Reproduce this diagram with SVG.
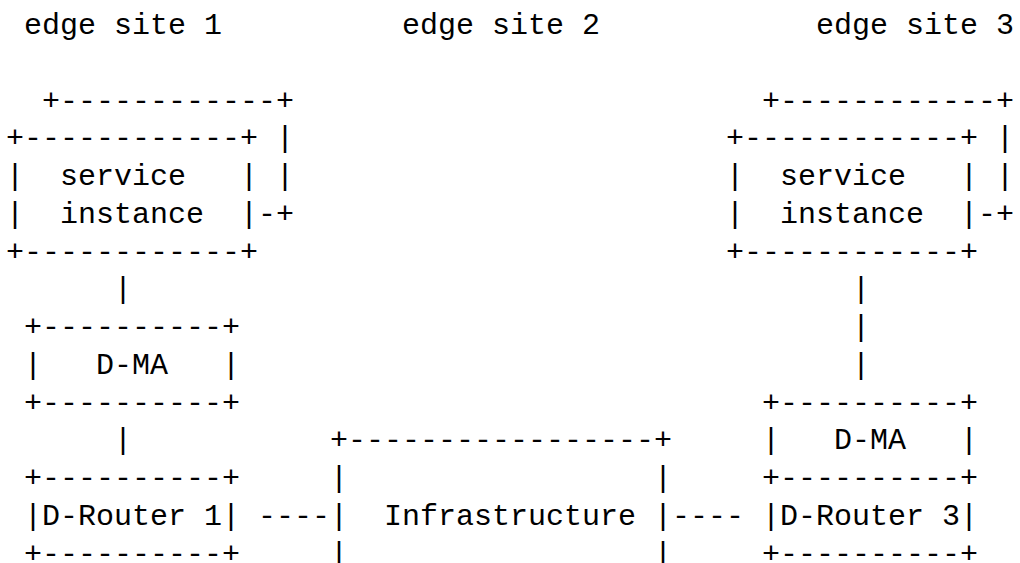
<svg xmlns="http://www.w3.org/2000/svg" width="1020" height="563" viewBox="0 0 1020 563" xml:space="preserve">
<style>
text { font-family: "Liberation Mono", "DejaVu Sans Mono", monospace; font-size: 30px; fill: #000; white-space: pre; }
</style>
<rect width="1020" height="563" fill="#fff"/>
<g id="site-labels">
<text x="24" y="34">edge site 1</text>
<text x="402" y="34">edge site 2</text>
<text x="816" y="34">edge site 3</text>
</g>
<g id="service-instance-1">
<text x="42" y="109.5">+------------+</text>
<text x="6" y="147.25">+------------+ |</text>
<text x="6" y="185">|  service   | |</text>
<text x="6" y="222.75">|  instance  |-+</text>
<text x="6" y="260.5">+------------+</text>
</g>
<g id="service-instance-3">
<text x="762" y="109.5">+------------+</text>
<text x="726" y="147.25">+------------+ |</text>
<text x="726" y="185">|  service   | |</text>
<text x="726" y="222.75">|  instance  |-+</text>
<text x="726" y="260.5">+------------+</text>
</g>
<g id="d-ma-1">
<text x="24" y="336">+----------+</text>
<text x="24" y="373.75">|   D-MA   |</text>
<text x="24" y="411.5">+----------+</text>
</g>
<g id="d-router-1">
<text x="24" y="487">+----------+</text>
<text x="24" y="524.75">|D-Router 1|</text>
<text x="24" y="562.5">+----------+</text>
</g>
<g id="infrastructure">
<text x="330" y="449.25">+-----------------+</text>
<text x="330" y="487">|                 |</text>
<text x="330" y="524.75">|  Infrastructure |</text>
<text x="330" y="562.5">|                 |</text>
</g>
<g id="d-ma-3">
<text x="762" y="411.5">+----------+</text>
<text x="762" y="449.25">|   D-MA   |</text>
<text x="762" y="487">+----------+</text>
</g>
<g id="d-router-3">
<text x="762" y="524.75">|D-Router 3|</text>
<text x="762" y="562.5">+----------+</text>
</g>
<g id="connectors">
<text x="114" y="298.25">|</text>
<text x="114" y="449.25">|</text>
<text x="852" y="298.25">|</text>
<text x="852" y="336">|</text>
<text x="852" y="373.75">|</text>
<text x="258" y="524.75">----</text>
<text x="672" y="524.75">----</text>
</g>
</svg>
